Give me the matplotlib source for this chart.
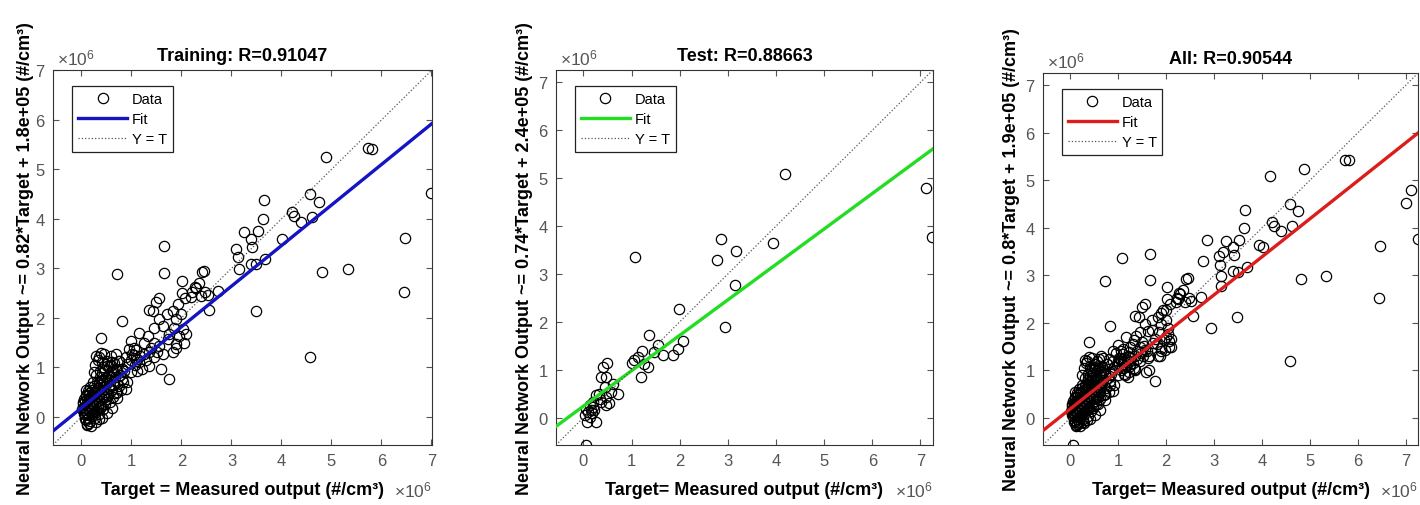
import matplotlib
matplotlib.use('Agg')
import matplotlib.pyplot as plt

plt.rcParams['font.family'] = ['Liberation Sans', 'DejaVu Sans']
plt.rcParams['mathtext.fontset'] = 'custom'
plt.rcParams['mathtext.rm'] = 'Liberation Sans'

# ---------------- data (units of 1e6 #/cm^3) ----------------
train_target = [
    # dense low cluster
    0.02, 0.04, 0.05, 0.06, 0.07, 0.08, 0.09, 0.10, 0.11, 0.12, 0.13, 0.14, 0.15, 0.16, 0.17, 0.18,
    0.19, 0.20, 0.21, 0.22, 0.23, 0.24, 0.25, 0.26, 0.27, 0.28, 0.29, 0.30, 0.31, 0.32, 0.33, 0.34,
    0.35, 0.36, 0.37, 0.38, 0.39, 0.40, 0.41, 0.42, 0.43, 0.44, 0.45, 0.46, 0.47, 0.48, 0.49, 0.50,
    0.52, 0.53, 0.54, 0.55, 0.57, 0.58, 0.60, 0.62, 0.63, 0.65, 0.68, 0.70, 0.72, 0.75, 0.78, 0.80,
    0.83, 0.86,
    0.05, 0.08, 0.10, 0.12, 0.14, 0.16, 0.18, 0.20, 0.22, 0.24, 0.26, 0.28, 0.30, 0.32, 0.34, 0.36,
    0.38, 0.40, 0.42, 0.44, 0.46, 0.48, 0.50, 0.52, 0.55, 0.58, 0.60, 0.64, 0.66,
    0.25, 0.28, 0.30, 0.33, 0.35, 0.40, 0.42, 0.46, 0.52, 0.55, 0.59, 0.62, 0.69, 0.69, 0.76, 0.82,
    0.09, 0.12, 0.15, 0.20, 0.29, 0.35, 0.42, 0.52, 0.62, 0.72, 0.72, 0.89, 0.92, 0.82, 0.66, 0.56,
    0.03, 0.07, 0.11, 0.15, 0.19, 0.23, 0.27, 0.31, 0.13, 0.17, 0.21, 0.25, 0.09, 0.33, 0.37, 0.06,
    # middle band
    1.66, 0.72, 1.66, 2.01, 2.41, 2.45, 2.36, 2.30, 2.22, 2.01, 2.08, 2.20, 2.53, 2.73, 2.56, 1.55,
    1.49, 1.36, 1.43, 0.82, 1.83, 1.93, 1.99, 1.71, 1.56, 1.90, 1.46, 1.63, 1.86, 1.76, 2.03, 2.10,
    1.96, 2.06, 1.90, 1.73, 0.40, 1.16, 0.99, 1.33, 1.46, 1.56, 1.76, 1.59, 1.36, 1.22, 1.46, 1.63,
    1.83, 1.90, 0.96, 1.06, 1.02, 0.89, 1.12, 1.26, 1.16, 1.36, 0.76, 0.92, 0.82, 0.99, 1.12, 1.05,
    1.10, 1.18, 1.00, 1.08, 1.25, 1.40, 1.52, 1.30,
    # upper / outliers
    7.00, 6.47, 6.45, 5.74, 5.82, 4.89, 4.58, 4.75, 4.62, 4.40, 4.21, 4.26, 4.02, 3.65, 3.63, 3.53,
    3.25, 3.40, 3.41, 3.10, 3.13, 3.15, 3.40, 3.50, 3.68, 3.49, 4.81, 5.33, 4.58, 2.40, 2.28, 2.47,
]
train_output = [
    0.15, 0.25, 0.05, 0.35, 0.18, -0.05, 0.42, 0.10, 0.28, -0.15, 0.20, 0.05, 0.38, 0.48, 0.12, -0.08,
    0.30, 0.22, 0.55, 0.02, 0.40, 0.15, 0.62, 0.33, -0.02, 0.25, 0.50, 0.10, 0.70, 0.38, 0.18, 0.58,
    0.45, 0.05, 0.80, 0.28, 0.65, 0.52, 0.35, 0.88, 0.15, 0.60, 0.42, 0.72, 0.25, 0.95, 0.50, 0.35,
    0.68, 0.82, 0.45, 0.58, 0.30, 0.75, 0.90, 0.55, 0.40, 0.65, 0.80, 0.48, 0.95, 0.62, 0.85, 0.55,
    0.70, 0.92,
    0.20, 0.32, 0.45, 0.08, 0.52, 0.25, 0.60, 0.40, 0.30, 0.70, 0.12, 0.48, 0.85, 0.55, 0.22, 0.68,
    0.92, 0.20, 0.75, 1.00, 0.55, 0.40, 0.78, 1.02, 0.85, 0.62, 1.05, 0.92, 1.08,
    0.90, 1.05, 1.22, 1.15, 1.20, 1.28, 1.10, 1.27, 1.13, 1.00, 1.23, 1.10, 1.27, 0.97, 1.13, 0.97,
    -0.07, -0.17, -0.12, -0.18, -0.10, -0.05, -0.03, 0.07, 0.17, 0.37, 0.50, 0.57, 0.70, 0.77, 0.73, 0.63,
    0.30, 0.08, 0.36, 0.45, 0.12, 0.26, 0.42, 0.30, -0.02, 0.28, 0.10, 0.45, 0.55, 0.60, 0.20, 0.10,
    3.45, 2.88, 2.91, 2.75, 2.93, 2.95, 2.70, 2.60, 2.52, 2.50, 2.40, 2.43, 2.47, 2.55, 2.15, 2.40,
    2.33, 2.15, 2.13, 1.93, 2.13, 2.27, 2.07, 2.07, 1.97, 1.98, 1.80, 1.83, 1.80, 1.67, 1.77, 1.67,
    1.63, 1.50, 1.47, 1.57, 1.60, 1.70, 1.53, 1.63, 1.50, 1.43, 0.77, 0.97, 1.03, 0.97, 1.20, 1.27,
    1.30, 1.40, 1.37, 1.40, 1.27, 1.20, 1.17, 1.27, 1.10, 1.30, 1.13, 1.07, 0.97, 0.90, 0.93, 1.25,
    1.35, 1.22, 1.15, 1.05, 1.50, 1.40, 1.30, 1.15,
    4.52, 3.61, 2.53, 5.43, 5.42, 5.25, 4.50, 4.35, 4.03, 3.93, 4.13, 4.05, 3.59, 4.38, 4.00, 3.75,
    3.73, 3.60, 3.43, 3.40, 3.22, 2.98, 3.09, 3.08, 3.18, 2.13, 2.92, 2.98, 1.20, 2.45, 2.62, 2.52,
]

test_target = [
    1.08, 4.18, 7.12, 7.25, 2.85, 2.78, 3.18, 3.14, 2.94, 3.94, 1.99, 1.37, 2.06, 1.97, 1.87, 1.54,
    1.47, 1.65, 1.22, 1.13, 1.06, 1.01, 1.25, 1.20, 1.34, 0.50, 0.41, 0.36, 0.48, 0.61, 0.44, 0.72,
    0.27, 0.34, 0.48, 0.54, 0.48, 0.58, 0.20, 0.13, 0.06, 0.10, 0.17, 0.23, 0.03, 0.13, 0.08, 0.27,
    0.06, 0.20, 0.15, 0.37, 0.32,
]
test_output = [
    3.36, 5.09, 4.79, 3.77, 3.74, 3.30, 3.49, 2.77, 1.89, 3.64, 2.27, 1.73, 1.61, 1.44, 1.31, 1.51,
    1.37, 1.30, 1.39, 1.26, 1.20, 1.14, 1.13, 0.86, 1.06, 1.14, 1.06, 0.85, 0.86, 0.71, 0.64, 0.50,
    0.47, 0.40, 0.44, 0.30, 0.26, 0.54, 0.33, 0.26, 0.19, 0.12, 0.09, 0.16, 0.06, 0.02, -0.08, -0.08,
    -0.57, 0.23, 0.16, 0.33, 0.50,
]

val_target = [
    0.10, 0.15, 0.20, 0.25, 0.30, 0.35, 0.40, 0.45, 0.50, 0.55, 0.60, 0.65, 0.70, 0.80, 0.90, 1.00,
    1.05, 1.10, 1.20, 1.25, 1.30, 1.40, 1.50, 1.60, 1.70, 1.80, 1.90, 2.00, 2.05, 2.10, 0.08, 0.18,
    0.28, 0.38, 0.48, 0.58, 1.15, 1.35, 1.65, 2.25,
]
val_output = [
    0.30, 0.15, 0.50, 0.28, 0.60, 0.30, 0.75, 0.90, 0.60, 1.20, 0.70, 1.30, 1.00, 1.25, 1.40, 1.20,
    1.00, 1.45, 1.30, 1.10, 1.55, 1.25, 1.60, 1.40, 1.85, 1.55, 2.20, 1.70, 1.90, 1.50, 0.05, -0.10,
    0.15, 0.45, 0.20, 0.45, 0.90, 1.00, 1.00, 2.50,
]

all_target = train_target + test_target + val_target
all_output = train_output + test_output + val_output

titles = ['Training: R=0.91047', 'Test: R=0.88663', 'All: R=0.90544']
fit_slopes = [0.82, 0.74, 0.80]
fit_intercepts = [0.18, 0.24, 0.19]   # 1e6 units
ylabels = ['Neural Network Output ~= 0.82*Target + 1.8e+05 (#/cm³)',
           'Neural Network Output ~= 0.74*Target + 2.4e+05 (#/cm³)',
           'Neural Network Output ~= 0.8*Target + 1.9e+05 (#/cm³)']
xlabels = ['Target = Measured output (#/cm³)',
           'Target= Measured output (#/cm³)',
           'Target= Measured output (#/cm³)']
fit_colors = ['#1414c4', '#22dd22', '#dd1c1c']
limits = [(-0.57, 7.01), (-0.57, 7.26), (-0.57, 7.26)]
ticks = [0, 1, 2, 3, 4, 5, 6, 7]
datasets = [(train_target, train_output), (test_target, test_output), (all_target, all_output)]

# ---------------- figure ----------------
fig = plt.figure(figsize=(14.2, 5.06), dpi=100)
positions = [[0.0373, 0.1186, 0.2669, 0.7411],
             [0.3915, 0.1186, 0.2655, 0.7411],
             [0.7345, 0.1186, 0.2641, 0.7350]]
ylabel_x = [-0.050, -0.060, -0.062]
gray = '#555555'

for i in range(3):
    ax = fig.add_axes(positions[i])
    t, o = datasets[i]
    lo, hi = limits[i]
    ax.plot(t, o, 'o', mfc='none', mec='k', ms=7.4, mew=0.9, label='Data', zorder=2)
    xs = [lo, hi]
    ax.plot(xs, [fit_slopes[i] * x + fit_intercepts[i] for x in xs], '-',
            color=fit_colors[i], lw=2.4, label='Fit', zorder=3)
    ax.plot(xs, xs, ':', color='#555555', lw=0.9, label='Y = T', zorder=4)
    ax.set_xlim(lo, hi)
    ax.set_ylim(lo, hi)
    ax.set_xticks(ticks)
    ax.set_yticks(ticks)
    ax.tick_params(direction='in', length=4, width=0.8, colors=gray, labelsize=12,
                   top=True, right=True, pad=6)
    for sp in ax.spines.values():
        sp.set_color('#333333')
        sp.set_linewidth(0.8)
    ax.set_title(titles[i], fontsize=13, fontweight='bold', pad=7)
    ax.set_xlabel(xlabels[i], fontsize=13, fontweight='bold', labelpad=9)
    ax.set_ylabel(ylabels[i], fontsize=13, fontweight='bold')
    ax.yaxis.set_label_coords(ylabel_x[i], 0.5)
    ax.annotate(r'$\mathregular{\times10^{6}}$', xy=(0, 1), xycoords='axes fraction',
                xytext=(3, 2), textcoords='offset points', ha='left', va='bottom',
                fontsize=12.5, color=gray)
    ax.annotate(r'$\mathregular{\times10^{6}}$', xy=(1, 0), xycoords='axes fraction',
                xytext=(0, -32), textcoords='offset points', ha='right', va='center',
                fontsize=12.5, color=gray)
    leg = ax.legend(loc='upper left', bbox_to_anchor=(0.05, 0.957), borderaxespad=0,
                    fontsize=10.5, fancybox=False, framealpha=1, edgecolor='#222222',
                    handlelength=3.4, handletextpad=0.3, labelspacing=0.42,
                    borderpad=0.4)
    leg.get_frame().set_linewidth(0.9)

fig.savefig('out.png', dpi=100)
